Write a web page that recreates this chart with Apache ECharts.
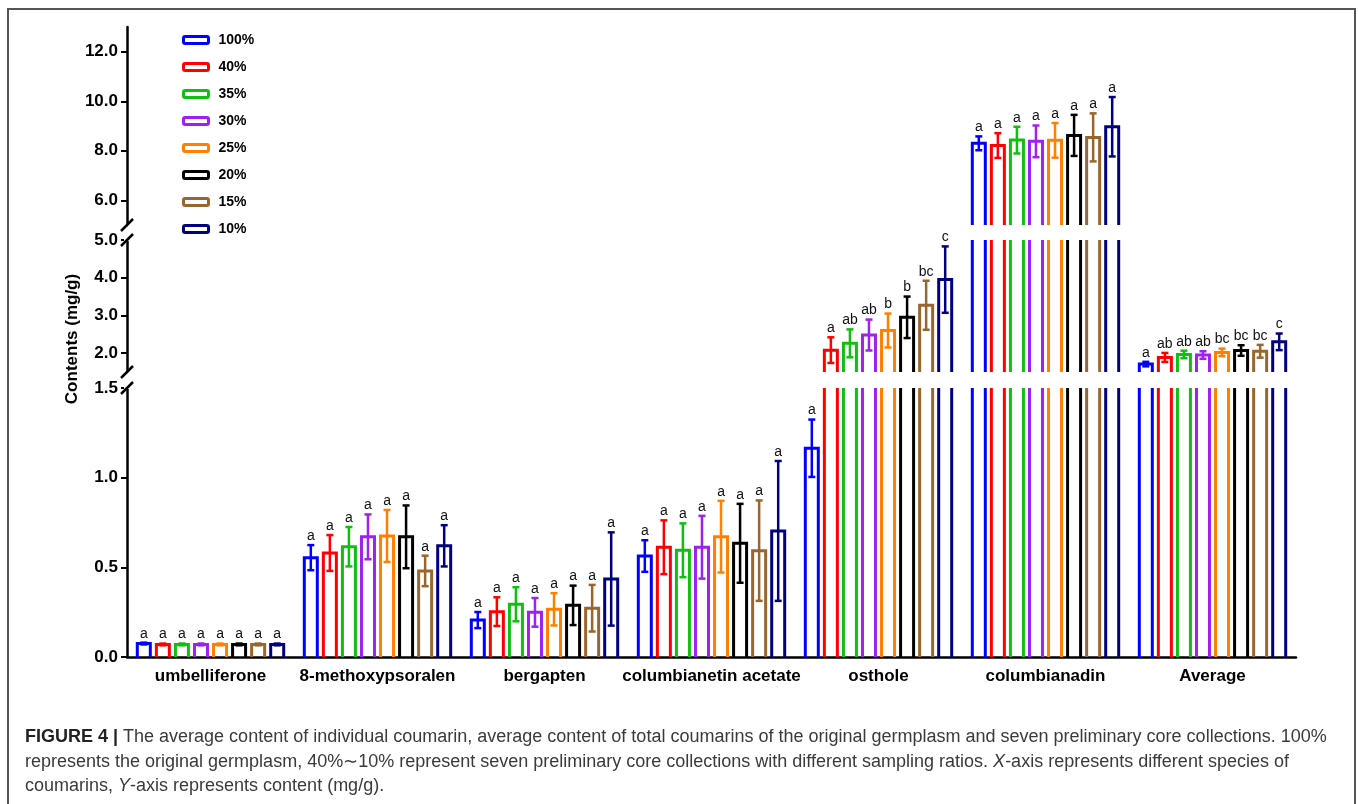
<!DOCTYPE html>
<html><head><meta charset="utf-8">
<script src="https://cdn.jsdelivr.net/npm/echarts@6/dist/echarts.min.js"></script>
<style>html,body{margin:0;padding:0;background:#fff}#c{width:1358px;height:804px}</style>
</head><body><div id="c"></div>
<script>
// ---------- DATA ----------
const categories = ['umbelliferone', '8-methoxypsoralen', 'bergapten', 'columbianetin acetate', 'osthole', 'columbianadin', 'Average'];
const groups = ['100%', '40%', '35%', '30%', '25%', '20%', '15%', '10%'];
const colors = ['#0000ff', '#ff0000', '#10c010', '#a020f0', '#ff8000', '#000000', '#99662e', '#000080'];

const mean100 = [0.075, 0.554, 0.206, 0.563, 1.164, 8.30, 1.71];
const mean40  = [0.070, 0.580, 0.253, 0.612, 2.08, 8.21, 1.886];
const mean35  = [0.070, 0.615, 0.294, 0.595, 2.26, 8.43, 1.965];
const mean30  = [0.070, 0.670, 0.249, 0.612, 2.48, 8.38, 1.95];
const mean25  = [0.070, 0.675, 0.266, 0.671, 2.60, 8.42, 2.02];
const mean20  = [0.070, 0.670, 0.288, 0.634, 2.95, 8.62, 2.07];
const mean15  = [0.070, 0.480, 0.272, 0.593, 3.27, 8.54, 2.05];
const mean10  = [0.070, 0.620, 0.435, 0.703, 3.95, 8.97, 2.30];

const sd100 = [0.005, 0.070, 0.045, 0.088, 0.16, 0.28, 0.06];
const sd40  = [0.005, 0.100, 0.080, 0.150, 0.34, 0.50, 0.12];
const sd35  = [0.005, 0.110, 0.095, 0.150, 0.37, 0.54, 0.10];
const sd30  = [0.005, 0.125, 0.080, 0.175, 0.41, 0.64, 0.10];
const sd25  = [0.005, 0.145, 0.090, 0.200, 0.45, 0.70, 0.10];
const sd20  = [0.005, 0.175, 0.110, 0.220, 0.55, 0.83, 0.14];
const sd15  = [0.005, 0.085, 0.130, 0.280, 0.65, 0.97, 0.17];
const sd10  = [0.005, 0.115, 0.260, 0.390, 0.88, 1.20, 0.22];

const letters100 = ['a', 'a', 'a', 'a', 'a', 'a', 'a'];
const letters40  = ['a', 'a', 'a', 'a', 'a', 'a', 'ab'];
const letters35  = ['a', 'a', 'a', 'a', 'ab', 'a', 'ab'];
const letters30  = ['a', 'a', 'a', 'a', 'ab', 'a', 'ab'];
const letters25  = ['a', 'a', 'a', 'a', 'b', 'a', 'bc'];
const letters20  = ['a', 'a', 'a', 'a', 'b', 'a', 'bc'];
const letters15  = ['a', 'a', 'a', 'a', 'bc', 'a', 'bc'];
const letters10  = ['a', 'a', 'a', 'a', 'c', 'a', 'c'];

const ticksBottom = [0, 0.5, 1.0, 1.5];
const ticksMiddle = [2, 3, 4, 5];
const ticksTop = [6, 8, 10, 12];

const means = [mean100, mean40, mean35, mean30, mean25, mean20, mean15, mean10];
const sds = [sd100, sd40, sd35, sd30, sd25, sd20, sd15, sd10];
const letters = [letters100, letters40, letters35, letters30, letters25, letters20, letters15, letters10];

// ---------- LAYOUT ----------
const GL = 127, GR = 62;
const segs = [
  { min: 0, max: 1.5, top: 388, height: 269, ticks: ticksBottom },
  { min: 1.5, max: 5, top: 240, height: 132, ticks: ticksMiddle },
  { min: 5, max: 13, top: 27, height: 198, ticks: ticksTop }
];
const FONT = '"Liberation Sans", Arial, Helvetica, sans-serif';

const chart = echarts.init(document.getElementById('c'), null, { renderer: 'canvas' });

function makeRender(g, k) {
  const seg = segs[g];
  const color = colors[k];
  return function (params, api) {
    const i = api.value(0), v = api.value(1), sd = api.value(2);
    const band = api.size([1, 0])[0];
    const pitch = band * 0.1141;
    const base = api.coord([i, seg.min]);
    const cx = base[0] + (k - 3.5) * pitch;
    const yb = base[1];
    const hw = 6.5;
    const children = [];
    if (v > seg.min) {
      const st = { stroke: color, lineWidth: 3, fill: null, lineJoin: 'miter', lineCap: 'butt' };
      if (v > seg.max) {
        const yt = api.coord([i, seg.max])[1];
        children.push({ type: 'line', shape: { x1: cx - hw, y1: yb, x2: cx - hw, y2: yt }, style: st });
        children.push({ type: 'line', shape: { x1: cx + hw, y1: yb, x2: cx + hw, y2: yt }, style: st });
      } else {
        const yt = api.coord([i, v])[1];
        children.push({ type: 'polyline', shape: { points: [[cx - hw, yb], [cx - hw, yt], [cx + hw, yt], [cx + hw, yb]] }, style: st });
        const ye1 = api.coord([i, v + sd])[1];
        const ye0 = api.coord([i, Math.max(v - sd, seg.min)])[1];
        const es = { stroke: color, lineWidth: 2.5 };
        const cw = 3.5;
        children.push({ type: 'line', shape: { x1: cx, y1: ye0, x2: cx, y2: ye1 }, style: es });
        children.push({ type: 'line', shape: { x1: cx - cw, y1: ye1, x2: cx + cw, y2: ye1 }, style: es });
        children.push({ type: 'line', shape: { x1: cx - cw, y1: ye0, x2: cx + cw, y2: ye0 }, style: es });
        children.push({
          type: 'text',
          style: { text: letters[k][i], x: cx, y: ye1 - 2, align: 'center', verticalAlign: 'bottom',
            fontSize: 14, fontFamily: FONT, fill: '#111' }
        });
      }
    }
    return { type: 'group', children };
  };
}

const grids = segs.map(s => ({ left: GL, right: GR, top: s.top, height: s.height }));
const xAxes = segs.map((s, g) => ({
  type: 'category', gridIndex: g, data: categories, show: g === 0,
  axisLine: { lineStyle: { color: '#000', width: 2.5 } },
  axisTick: { alignWithLabel: true, length: 6, lineStyle: { color: '#000', width: 2 } },
  axisLabel: { interval: 0, hideOverlap: false, fontSize: 17, fontWeight: 'bold', color: '#000', fontFamily: FONT, margin: 11 },
  splitLine: { show: false }
}));
const yAxes = segs.map((s, g) => ({
  type: 'value', gridIndex: g, min: s.min, max: s.max,
  splitLine: { show: false },
  axisLine: { show: true, lineStyle: { color: '#000', width: 2.5 } },
  axisTick: { show: true, length: 6, customValues: s.ticks, lineStyle: { color: '#000', width: 2 } },
  axisLabel: { customValues: s.ticks, formatter: v => Number(v).toFixed(1), fontSize: 17, fontWeight: 'bold',
    color: '#000', fontFamily: FONT, margin: 9 }
}));

const series = [];
segs.forEach((s, g) => {
  groups.forEach((name, k) => {
    series.push({
      type: 'custom', name: name, xAxisIndex: g, yAxisIndex: g,
      itemStyle: { color: colors[k] },
      data: categories.map((c, i) => [i, means[k][i], sds[k][i]]),
      renderItem: makeRender(g, k), silent: true
    });
  });
});

const captionLines = [
  '{b|FIGURE 4 |} The average content of individual coumarin, average content of total coumarins of the original germplasm and seven preliminary core collections. 100%',
  'represents the original germplasm, 40%\u223C10% represent seven preliminary core collections with different sampling ratios. {i|X}-axis represents different species of',
  'coumarins, {i|Y}-axis represents content (mg/g).'
];
const capY = [737, 762, 786];

chart.setOption({
  animation: false,
  backgroundColor: '#fff',
  grid: grids, xAxis: xAxes, yAxis: yAxes, series: series,
  legend: {
    orient: 'vertical', left: 177, top: 28, itemWidth: 25, itemHeight: 7, itemGap: 13,
    icon: 'roundRect', selectedMode: false,
    data: groups.map((n, k) => ({ name: n, itemStyle: { color: '#fff', borderColor: colors[k], borderWidth: 3 } })),
    textStyle: { fontSize: 14, fontWeight: 'bold', color: '#000', fontFamily: FONT, padding: [0, 0, 0, 5] }
  }
});

// decorations: frame, axis name, break marks, caption
const gfx = [];
gfx.push({ type: 'rect', shape: { x: 8, y: 9, width: 1347, height: 830 }, style: { fill: null, stroke: '#555', lineWidth: 2 }, silent: true });
gfx.push({ type: 'text', x: 72, y: 339, rotation: Math.PI / 2,
  style: { text: 'Contents (mg/g)', align: 'center', verticalAlign: 'middle', fontSize: 17, fontWeight: 'bold', fontFamily: FONT, fill: '#000' } });
const ax = GL;
segs.forEach((s, g) => {
  const edges = [];
  if (g > 0) edges.push(s.min);
  if (g < segs.length - 1) edges.push(s.max);
  edges.forEach(val => {
    const y = chart.convertToPixel({ yAxisIndex: g }, val);
    gfx.push({ type: 'rect', shape: { x: ax - 3, y: y - 1, width: 6, height: 2 }, style: { fill: '#fff' }, z: 100 });
    gfx.push({ type: 'line', shape: { x1: ax - 6, y1: y + 6, x2: ax + 6, y2: y - 6 }, style: { stroke: '#000', lineWidth: 2.5 }, z: 101 });
  });
});
captionLines.forEach((t, j) => {
  gfx.push({ type: 'text', x: 25, y: capY[j],
    style: { text: t, align: 'left', verticalAlign: 'middle', fontSize: 18, fontFamily: FONT, fill: '#3a3a3a',
      rich: { b: { fontWeight: 'bold', fontSize: 18, fontFamily: FONT, fill: '#222' }, i: { fontStyle: 'italic', fontSize: 18, fontFamily: FONT, fill: '#3a3a3a' } } } });
});
chart.setOption({ graphic: gfx });
</script></body></html>
